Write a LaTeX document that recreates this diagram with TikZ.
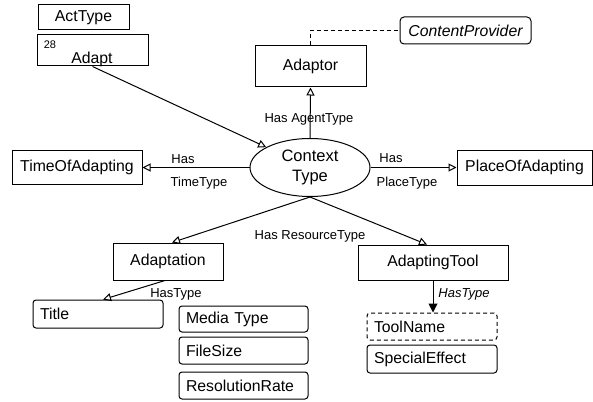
\documentclass[tikz,border=0pt]{standalone}
\usepackage{fontspec}
\setmainfont{Liberation Sans}
\usetikzlibrary{shapes.geometric,arrows.meta,calc}
\begin{document}
\begin{tikzpicture}[x=1pt,y=-1pt,
  every node/.style={inner sep=0pt},
  box/.style={draw,line width=1pt,font=\fontsize{15.8}{18}\selectfont},
  rbox/.style={draw,line width=1pt,rounded corners=3pt,font=\fontsize{15.8}{18}\selectfont,align=left,inner xsep=7pt},
  lab/.style={font=\fontsize{13}{15}\selectfont},
  conn/.style={line width=1pt},
  dsh/.style={dash pattern=on 4pt off 3pt},
  opentip/.style={conn,-{Triangle[open,length=8pt,width=8pt]}},
  filltip/.style={conn,-{Triangle[length=9pt,width=9pt]}}
]
\useasboundingbox (0,0) rectangle (593,401);
% nodes
\node[box,minimum width=91pt,minimum height=25pt] (act) at (83.5,17.5) {ActType};
\node[box,minimum width=111pt,minimum height=31pt] (adapt) at (92.5,50.5) {};
\node[font=\fontsize{11}{12}\selectfont] (n28) at (50,45) {28};
\node[font=\fontsize{15.8}{18}\selectfont] (adapttxt) at (92,59) {Adapt};
\node[box,minimum width=111pt,minimum height=41pt] (adaptor) at (310.5,66.5) {Adaptor};
\node[box,rounded corners=4pt,minimum width=131pt,minimum height=27pt,font=\fontsize{15.8}{18}\selectfont\itshape] (cp) at (465.5,30.5) {ContentProvider};
\node[draw,ellipse,line width=1pt,minimum width=120pt,minimum height=58pt,align=center,font=\fontsize{16.5}{19.5}\selectfont] (ctx) at (310,167.5) {Context\\Type};
\node[box,minimum width=130pt,minimum height=34pt] (time) at (77,167.5) {TimeOfAdapting};
\node[box,minimum width=135pt,minimum height=35pt] (place) at (524.5,167.5) {PlaceOfAdapting};
\node[box,minimum width=110pt,minimum height=37pt] (adaptation) at (168,261.5) {Adaptation};
\node[box,minimum width=150pt,minimum height=35pt] (tool) at (433,262.5) {AdaptingTool};
\node[rbox,text width=116pt,minimum height=28pt] (title) at (98,314) {Title};
\node[rbox,text width=115pt,minimum height=26pt] (media) at (243.5,319) {Media Type};
\node[rbox,text width=115pt,minimum height=27pt] (filesize) at (243.5,350.5) {FileSize};
\node[rbox,text width=115pt,minimum height=27pt] (res) at (243.5,385.5) {ResolutionRate};
\node[rbox,dsh,text width=116pt,minimum height=27pt] (toolname) at (432,326.5) {ToolName};
\node[rbox,text width=116pt,minimum height=28pt] (special) at (432,359) {SpecialEffect};
% connectors
\draw[opentip] (adapt.south) -- (ctx);
\draw[opentip] (ctx.north) -- (adaptor.south);
\draw[conn,dsh] (adaptor.north) |- (cp.west);
\draw[opentip] (ctx.west) -- (time.east);
\draw[opentip] (ctx.east) -- (place.west);
\draw[opentip] (ctx.south) -- ($(adaptation.north)+(4,0)$);
\draw[opentip] (ctx.south) -- ($(tool.north)+(-6,0)$);
\draw[opentip] ($(adaptation.south)+(-3,0)$) -- ($(title.north)+(5,0)$);
\draw[filltip] (tool.south) -- (tool.south |- toolname.north);
% labels
\node[lab] (l1) at (309,119) {Has AgentType};
\node[lab] (l2) at (183,159) {Has};
\node[lab] (l3) at (199,183) {TimeType};
\node[lab] (l4) at (391,158) {Has};
\node[lab] (l5) at (407,183) {PlaceType};
\node[lab] (l6) at (310,236) {Has ResourceType};
\node[lab] (l7) at (176,294) {HasType};
\node[lab,font=\fontsize{13}{15}\selectfont\itshape] (l8) at (464,294) {HasType};
\end{tikzpicture}
\end{document}
